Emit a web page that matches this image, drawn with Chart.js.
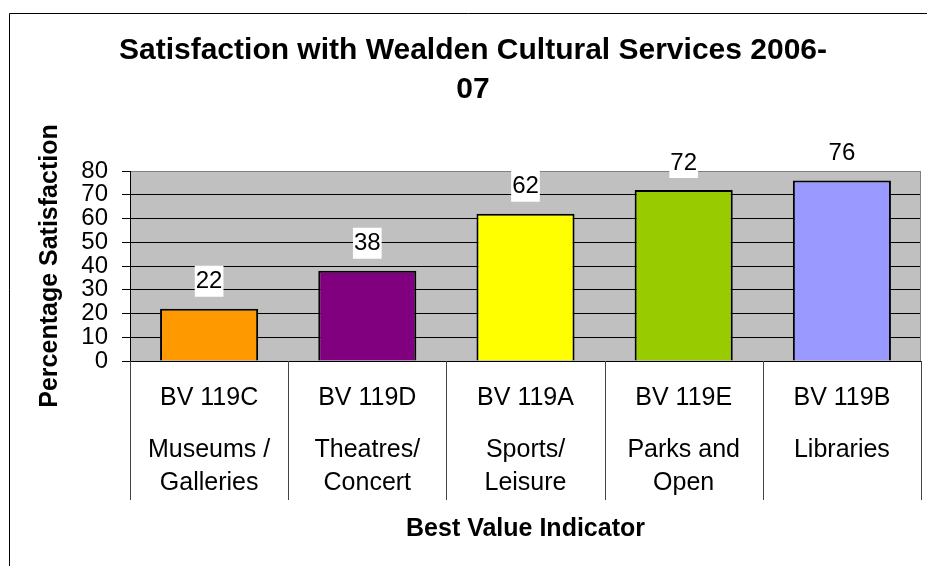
<!DOCTYPE html>
<html>
<head>
<meta charset="utf-8">
<script src="https://cdn.jsdelivr.net/npm/chart.js@4.4.0/dist/chart.umd.min.js"></script>
<style>
    body { margin: 0; background: #fff; }
    #wrap { width: 927px; height: 566px; }
</style>
</head>
<body>
<div id="wrap"><canvas id="chart" width="927" height="566"></canvas></div>
<script>
const codes = ['BV 119C', 'BV 119D', 'BV 119A', 'BV 119E', 'BV 119B'];
const services = [['Museums /', 'Galleries'], ['Theatres/', 'Concert'], ['Sports/', 'Leisure'], ['Parks and', 'Open'], ['Libraries']];
const satisfaction = [22, 38, 62, 72, 76];
const barColors = ['#FF9900', '#800080', '#FFFF00', '#99CC00', '#9999FF'];
const yMin = 0, yMax = 80, yStep = 10;

const FAMILY = "'Liberation Sans', Arial, sans-serif";

// background, frame, value labels and category separators
const decor = {
    id: 'decor',
    beforeDraw(chart) {
        const { ctx, chartArea: a } = chart;
        ctx.save();
        ctx.fillStyle = '#fff';
        ctx.fillRect(0, 0, chart.width, chart.height);
        ctx.fillStyle = '#C0C0C0';
        ctx.fillRect(a.left, a.top, a.right - a.left, a.bottom - a.top);
        ctx.strokeStyle = '#000';
        ctx.lineWidth = 1;
        ctx.beginPath();
        ctx.moveTo(9.5, chart.height);
        ctx.lineTo(9.5, 13.5);
        ctx.lineTo(chart.width, 13.5);
        ctx.stroke();
        ctx.restore();
    },
    beforeDatasetsDraw(chart) {
        const { ctx, chartArea: a } = chart;
        ctx.save();
        ctx.strokeStyle = '#808080';
        ctx.lineWidth = 1;
        ctx.beginPath();
        ctx.moveTo(a.right - 0.5, a.top);
        ctx.lineTo(a.right - 0.5, a.bottom);
        ctx.stroke();
        ctx.restore();
    },
    afterDatasetsDraw(chart) {
        const { ctx } = chart;
        const meta = chart.getDatasetMeta(0);
        ctx.save();
        ctx.font = `24px ${FAMILY}`;
        ctx.textAlign = 'center';
        ctx.textBaseline = 'middle';
        meta.data.forEach((bar, i) => {
            const txt = String(satisfaction[i]);
            const cy = bar.y - 28;
            const w = ctx.measureText(txt).width + 2;
            ctx.fillStyle = '#fff';
            ctx.fillRect(bar.x - w / 2, cy - 15, w, 31);
            ctx.fillStyle = '#000';
            ctx.fillText(txt, bar.x, cy + 1);
        });
        ctx.restore();
    },
    afterDraw(chart) {
        const { ctx, chartArea: a } = chart;
        const x = chart.scales.x;
        const step = x.getPixelForValue(1) - x.getPixelForValue(0);
        ctx.save();
        ctx.strokeStyle = '#444';
        ctx.lineWidth = 1;
        ctx.beginPath();
        for (let i = 0; i <= codes.length; i++) {
            const px = Math.round(x.getPixelForValue(i) - step / 2) + 0.5;
            ctx.moveTo(px, a.bottom);
            ctx.lineTo(px, a.bottom + 139);
        }
        ctx.stroke();
        ctx.restore();
    }
};

new Chart(document.getElementById('chart'), {
    type: 'bar',
    data: {
        labels: codes,
        datasets: [{
            data: satisfaction,
            backgroundColor: barColors,
            borderColor: '#000',
            borderWidth: 2,
            barPercentage: 0.62,
            categoryPercentage: 1
        }]
    },
    options: {
        responsive: false,
        animation: false,
        layout: { padding: { top: 21, left: 25, right: 6, bottom: 0 } },
        plugins: {
            legend: { display: false },
            tooltip: { enabled: false },
            title: {
                display: true,
                text: ['Satisfaction with Wealden Cultural Services 2006-', '07'],
                color: '#000',
                font: { size: 30, weight: 'bold', family: FAMILY, lineHeight: 1.3 },
                padding: { top: 10, bottom: 62 }
            }
        },
        scales: {
            y: {
                min: yMin,
                max: yMax,
                ticks: {
                    stepSize: yStep,
                    autoSkip: false,
                    padding: 14,
                    color: '#000',
                    font: { size: 24, family: FAMILY, lineHeight: 0.9 }
                },
                grid: {
                    color: c => (c.tick && c.tick.value === yMax ? '#808080' : '#000'),
                    tickColor: '#000',
                    tickLength: 8,
                    lineWidth: 1
                },
                border: { color: '#000' },
                title: {
                    display: true,
                    text: 'Percentage Satisfaction',
                    color: '#000',
                    font: { size: 25, weight: 'bold', family: FAMILY },
                    padding: { top: 10, bottom: 0 }
                },
                afterFit(scale) { scale.width = 105; }
            },
            x: {
                weight: 0,
                ticks: { padding: 22, color: '#000', autoSkip: false, maxRotation: 0, font: { size: 25, family: FAMILY } },
                grid: { display: false, drawTicks: false },
                border: { display: true, color: '#000' },
                afterFit(scale) { scale.height = 60; }
            },
            x2: {
                type: 'category',
                position: 'bottom',
                weight: 1,
                labels: services,
                offset: true,
                ticks: { padding: 12, color: '#000', autoSkip: false, maxRotation: 0, font: { size: 25, family: FAMILY, lineHeight: 1.34 } },
                grid: { display: false, drawTicks: false },
                border: { display: false },
                title: {
                    display: true,
                    text: 'Best Value Indicator',
                    color: '#000',
                    font: { size: 25, weight: 'bold', family: FAMILY },
                    padding: { top: 0, bottom: 22 }
                },
                afterFit(scale) { scale.height = 145; }
            }
        }
    },
    plugins: [decor]
});
</script>
</body>
</html>
